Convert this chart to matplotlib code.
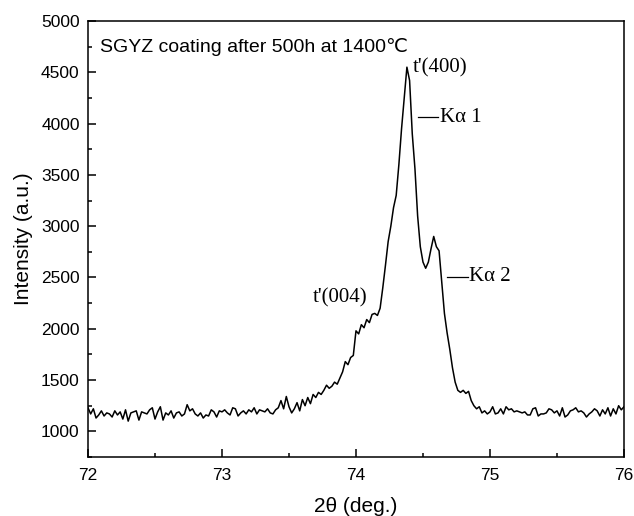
import numpy as np
import matplotlib
matplotlib.use('Agg')
import matplotlib.pyplot as plt
from matplotlib.ticker import MultipleLocator

plt.rcParams['font.family'] = ['Liberation Sans', 'DejaVu Sans']

# 2theta from 72 to 76 deg, step 0.02
two_theta = np.linspace(72.0, 76.0, 201)
intensity = [
    1230, 1170, 1220, 1130, 1160, 1200, 1150, 1180, 1170, 1140,
    1200, 1160, 1190, 1120, 1210, 1100, 1180, 1190, 1200, 1110,
    1190, 1180, 1170, 1210, 1230, 1120, 1190, 1240, 1110, 1180,
    1160, 1200, 1130, 1180, 1190, 1150, 1170, 1260, 1200, 1220,
    1170, 1150, 1180, 1130, 1160, 1150, 1210, 1190, 1140, 1200,
    1190, 1210, 1180, 1160, 1230, 1220, 1150, 1180, 1200, 1170,
    1210, 1190, 1230, 1170, 1210, 1200, 1190, 1220, 1180, 1170,
    1210, 1230, 1300, 1220, 1340, 1240, 1180, 1220, 1280, 1200,
    1310, 1250, 1330, 1270, 1360, 1330, 1380, 1360, 1400, 1450,
    1420, 1440, 1480, 1460, 1520, 1580, 1680, 1650, 1720, 1740,
    1980, 1950, 2040, 2010, 2090, 2060, 2140, 2150, 2130, 2200,
    2400, 2620, 2850, 3000, 3180, 3300, 3600, 3950, 4250, 4550,
    4420, 3900, 3560, 3100, 2800, 2650, 2590, 2650, 2780, 2900,
    2800, 2760, 2450, 2150, 1960, 1800, 1620, 1480, 1400, 1380,
    1400, 1370, 1390, 1300, 1250, 1220, 1240, 1180, 1200, 1170,
    1190, 1240, 1170, 1180, 1220, 1170, 1240, 1210, 1220, 1190,
    1200, 1190, 1180, 1190, 1160, 1160, 1220, 1230, 1150, 1170,
    1170, 1180, 1220, 1210, 1180, 1200, 1150, 1230, 1140, 1160,
    1200, 1210, 1230, 1190, 1200, 1180, 1140, 1170, 1190, 1220,
    1200, 1150, 1210, 1170, 1230, 1150, 1220, 1170, 1250, 1210, 1240,
]

fig = plt.figure(figsize=(6.34, 5.16), dpi=100)
ax = fig.add_axes([0.1388, 0.1143, 0.8454, 0.845])

ax.plot(two_theta, intensity, color='black', lw=1.1)

ax.set_xlim(72, 76)
ax.set_ylim(750, 5000)
ax.xaxis.set_major_locator(MultipleLocator(1))
ax.xaxis.set_minor_locator(MultipleLocator(0.5))
ax.yaxis.set_major_locator(MultipleLocator(500))
ax.yaxis.set_minor_locator(MultipleLocator(250))
ax.tick_params(which='both', direction='in', top=False, right=False,
               labelsize=12.5, width=1.1)
ax.tick_params(which='major', length=6, pad=6)
ax.tick_params(which='minor', length=3)
ax.tick_params(axis='x', which='major', pad=8)
for s in ax.spines.values():
    s.set_linewidth(1.1)

ax.set_xlabel('2θ (deg.)', fontsize=15, labelpad=10)
ax.set_ylabel('Intensity (a.u.)', fontsize=15, labelpad=6)

ax.text(0.022, 0.94, 'SGYZ coating after 500h at 1400℃', transform=ax.transAxes,
        fontsize=14, ha='left', va='center')

serif = ['Liberation Serif', 'DejaVu Serif']
ax.text(74.425, 4547, "t'(400)", family=serif, fontsize=15, ha='left', va='center')
ax.plot([74.463, 74.612], [4061, 4061], color='black', lw=0.9)
ax.text(74.625, 4061, 'Kα 1', family=serif, fontsize=15, ha='left', va='center')
ax.plot([74.679, 74.836], [2506, 2506], color='black', lw=0.9)
ax.text(74.845, 2506, 'Kα 2', family=serif, fontsize=15, ha='left', va='center')
ax.text(73.68, 2302, "t'(004)", family=serif, fontsize=15, ha='left', va='center')

fig.savefig('out.png', dpi=100)
